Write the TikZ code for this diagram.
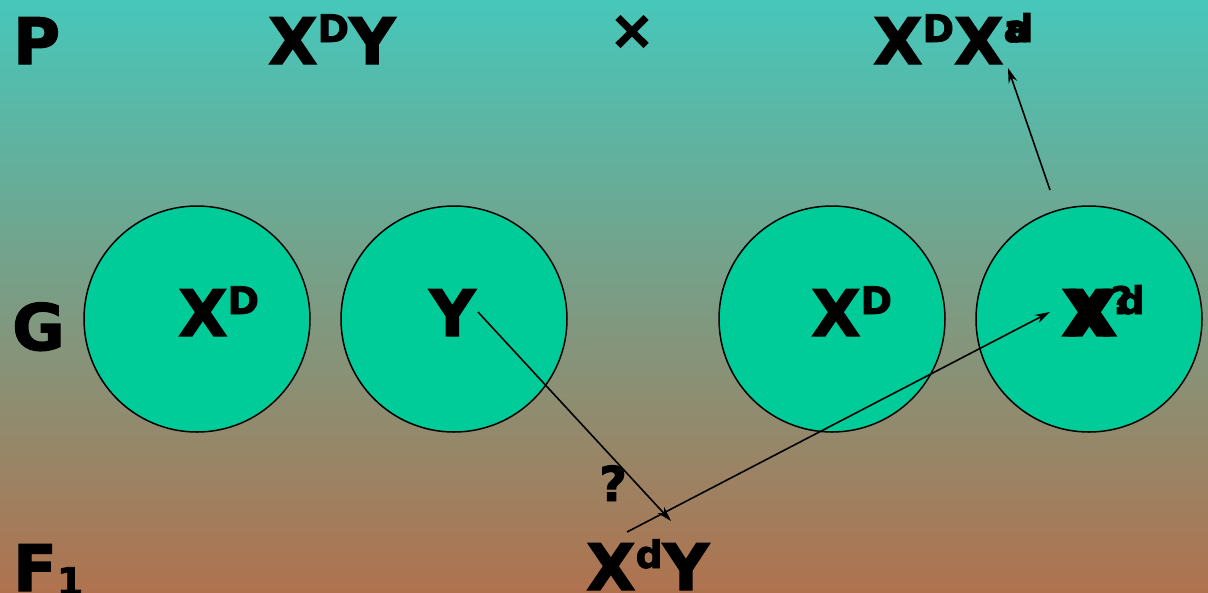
\documentclass[tikz,border=0pt]{standalone}
\usepackage{fontspec}
\setmainfont{DejaVu Sans}[BoldFeatures={FakeBold=2}]
\usetikzlibrary{arrows.meta, positioning, calc}
\definecolor{bgtop}{RGB}{70,199,186}
\definecolor{bgmid}{RGB}{125,158,127}
\definecolor{bgbot}{RGB}{176,114,78}
\definecolor{selgamet}{RGB}{0,204,153}

% huruf besar tebal dengan pangkat
\newcommand{\bigtxt}{\fontsize{64}{70}\selectfont\bfseries}
\newcommand{\pkt}[1]{\raisebox{22pt}{\fontsize{38}{40}\selectfont\bfseries #1}}

\begin{document}
\begin{tikzpicture}[x=1pt, y=-1pt,
    lbl/.style={inner sep=0pt, anchor=base west, font=\bigtxt},
    gamet/.style={circle, draw=black, line width=1.5pt, fill=selgamet, minimum size=226pt, inner sep=0pt},
    panah/.style={-{Stealth[length=15pt, width=9pt]}, line width=1.6pt}]
        \useasboundingbox (0,0) rectangle (1208,592);
        \shade[top color=bgtop, middle color=bgmid, bottom color=bgbot] (0,0) rectangle (1208,592);

        % baris gamet
        \foreach \nm/\cx in {g1/197, g2/454, g3/832, g4/1089}
        {
            \node[gamet] (\nm) at (\cx,319) {};
        }

        % label generasi
        \node[lbl] (lP) at (13,64) {P};
        \node[lbl] (lG) at (12,350) {G};
        \node[lbl] (lF) at (13,591) {F\raisebox{-4pt}{\fontsize{38}{40}\selectfont\bfseries 1}};

        % tetua
        \node[lbl] (ayah) at (268,64) {X\pkt{D}Y};
        \node[inner sep=0pt, font=\fontsize{54}{56}\selectfont\bfseries] (kali) at (632,32) {×};
        \node[lbl] (ibu) at (873,64) {X\pkt{D}X\pkt{a}};
        \node[inner sep=0pt, anchor=base west, font=\fontsize{38}{40}\selectfont\bfseries] (ibub) at (1006,42) {d};

        % isi gamet
        \node[lbl] (t1) at (178,336) {X\pkt{D}};
        \node[lbl] (t2) at (429,336) {Y};
        \node[lbl] (t3) at (811,336) {X\pkt{D}};
        \node[lbl] (t4b) at (1061,336) {X\pkt{?}};
        \node[lbl] (t4) at (1068,336) {X\pkt{d}};

        % keturunan
        \node[inner sep=0pt, anchor=base west, font=\fontsize{48}{50}\selectfont\bfseries] (tanya) at (599,501) {?};
        \node[lbl] (anak) at (586,590) {X\pkt{d}Y};

        % panah
        \coordinate (a1) at (478,312);
        \coordinate (b1) at (671,521);
        \coordinate (a2) at (627,532);
        \coordinate (b2) at (1050,312);
        \coordinate (a3) at (1050,190);
        \coordinate (b3) at (1008,68);
        \draw[panah] (a1) -- (b1);
        \draw[panah] (a2) -- (b2);
        \draw[panah] (a3) -- (b3);
    \end{tikzpicture}
\end{document}
